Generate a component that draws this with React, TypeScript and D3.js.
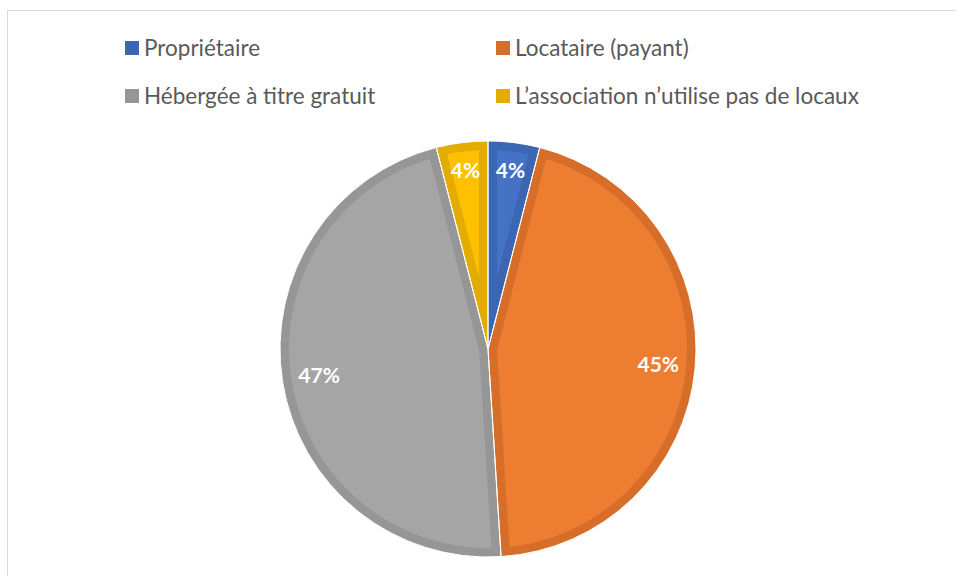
import { useRef, useEffect } from 'react';
import * as d3 from 'd3';

const categories = [
  'Propriétaire',
  'Locataire (payant)',
  'Hébergée à titre gratuit',
  'L’association n’utilise pas de locaux',
];
const values = [4, 45, 47, 4];
const fillColors = ['#4472C4', '#ED7D31', '#A5A5A5', '#FFC000'];
const borderColors = ['#3B66B3', '#D66E2A', '#969696', '#E5AC00'];

function App() {
  const svgRef = useRef<SVGSVGElement>(null);
  const width = 956;
  const height = 576;

  useEffect(() => {
    const svg = d3.select(svgRef.current);
    svg.selectAll('*').remove();

    // chart area frame (runs off right/bottom edge)
    svg
      .append('rect')
      .attr('x', 7.5)
      .attr('y', 10.5)
      .attr('width', 1000)
      .attr('height', 1000)
      .attr('fill', '#fff')
      .attr('stroke', '#d9d9d9');

    const cx = 488;
    const cy = 349;
    const radius = 208;

    const pie = d3
      .pie<number>()
      .sort(null)
      .value((d) => d);
    const arcs = pie(values);
    const arc = d3.arc<d3.PieArcDatum<number>>().innerRadius(0).outerRadius(radius);

    const g = svg.append('g').attr('transform', `translate(${cx},${cy})`);
    const defs = svg.append('defs');

    arcs.forEach((a, i) => {
      defs
        .append('clipPath')
        .attr('id', `clip${i}`)
        .append('path')
        .attr('d', arc(a));
    });

    g.selectAll('.slice')
      .data(arcs)
      .join('path')
      .attr('class', 'slice')
      .attr('d', (d) => arc(d))
      .attr('fill', (d, i) => fillColors[i])
      .attr('stroke', (d, i) => borderColors[i])
      .attr('stroke-width', 18)
      .attr('clip-path', (d, i) => `url(#clip${i})`);

    g.selectAll('.sep')
      .data(arcs)
      .join('path')
      .attr('class', 'sep')
      .attr('d', (d) => arc(d))
      .attr('fill', 'none')
      .attr('stroke', '#fff')
      .attr('stroke-width', 1);

    // small slices get their label pushed a bit further out
    const labelPos = (d: d3.PieArcDatum<number>) => {
      const r = d.endAngle - d.startAngle < 0.5 ? 180 : 171;
      return d3.arc<d3.PieArcDatum<number>>().innerRadius(r).outerRadius(r).centroid(d);
    };
    g.selectAll('.label')
      .data(arcs)
      .join('text')
      .attr('class', 'label')
      .attr('transform', (d) => `translate(${labelPos(d)})`)
      .attr('text-anchor', 'middle')
      .attr('dy', '0.35em')
      .attr('fill', '#fff')
      .attr('font-family', 'Lato, "Open Sans", sans-serif')
      .attr('font-weight', 'bold')
      .style('font-size', '21px')
      .text((d) => `${d.data}%`);

    // legend
    const legendX = [125, 496];
    const legendY = [48, 96];
    const legend = svg
      .selectAll('.legend')
      .data(categories)
      .join('g')
      .attr('class', 'legend')
      .attr('transform', (d, i) => `translate(${legendX[i % 2]},${legendY[Math.floor(i / 2)]})`);

    legend
      .append('rect')
      .attr('x', 0)
      .attr('y', -7)
      .attr('width', 14)
      .attr('height', 14)
      .attr('fill', (d, i) => borderColors[i]);

    legend
      .append('text')
      .attr('x', 19)
      .attr('y', 7.5)
      .attr('fill', '#595959')
      .attr('font-family', 'Lato, "Open Sans", sans-serif')
      .style('font-size', '22.5px')
      .text((d) => d);
  }, []);

  return (
    <svg
      ref={svgRef}
      width={width}
      height={height}
      style={{ position: 'absolute', left: 0, top: 0, background: '#fff' }}
    ></svg>
  );
}

export default App;
